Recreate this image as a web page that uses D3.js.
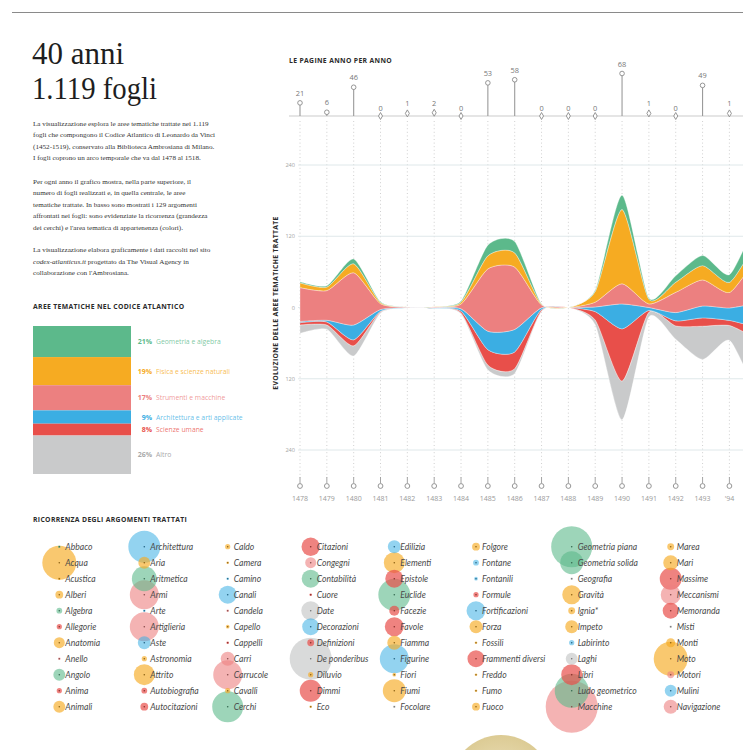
<!DOCTYPE html>
<html><head><meta charset="utf-8">
<script src="https://cdn.jsdelivr.net/npm/d3@7"></script>
<style>
body{margin:0;background:#fff;}
svg{display:block;}
</style></head><body>
<svg id="c" width="743" height="750"></svg>
<script>
// ---------- DATA ----------
const years = [1478,1479,1480,1481,1482,1483,1484,1485,1486,1487,1488,1489,1490,1491,1492,1493,1494];
const yearLabels = ["1478","1479","1480","1481","1482","1483","1484","1485","1486","1487","1488","1489","1490","1491","1492","1493","'94"];
const pages = [21,6,46,0,1,2,0,53,58,0,0,0,68,1,0,49,1];

const streamYears  = [1478,1479,1480,1481,1482,1483,1484,1485,1486,1487,1488,1489,1490,1491,1492,1493,1494,1495,1496];
const geometria    = [2,2,8,1,0,0,2,18,19,1,0,2,24,2,11,17,13,32,25];
const fisica       = [8,6,15,2,0,0.5,3,22,24,1,0,18,125,8,17,24,17,27,25];
const strumenti    = [57,50,88,10,1,1,8,105,105,5,0,8,34,6,34,44,26,70,55];
const architettura = [2,3,25,3,1,1,4,31,38,3,0,8,42,5,14,20,21,38,30];
const scienze      = [4,5,10,1,0,0,3,26,28,2,0,14,88,3,8.5,14,8.5,18,15];
const altro        = [14,7,17,2,0,0,1.5,8,8,1,0,8,65,8,22.5,56,25,85,60];

const areaNames  = ["Geometria e algebra","Fisica e scienze naturali","Strumenti e macchine","Architettura e arti applicate","Scienze umane","Altro"];
const areaShares = [21,19,17,9,8,26];
const areaColors = ["#5cb98b","#f6ab22","#ec8080","#3baee3","#e84f4a","#c9cacb"];
const yTicks = [-240,-120,0,120,240];

const topics = ["Abbaco","Acqua","Acustica","Alberi","Algebra","Allegorie","Anatomia","Anello","Angolo","Anima","Animali",
"Architettura","Aria","Aritmetica","Armi","Arte","Artiglieria","Aste","Astronomia","Attrito","Autobiografia","Autocitazioni",
"Caldo","Camera","Camino","Canali","Candela","Capello","Cappelli","Carri","Carrucole","Cavalli","Cerchi",
"Citazioni","Congegni","Contabilità","Cuore","Date","Decorazioni","Definizioni","De ponderibus","Diluvio","Dimmi","Eco",
"Edilizia","Elementi","Epistole","Euclide","Facezie","Favole","Fiamma","Figurine","Fiori","Fiumi","Focolare",
"Folgore","Fontane","Fontanili","Formule","Fortificazioni","Forza","Fossili","Frammenti diversi","Freddo","Fumo","Fuoco",
"Geometria piana","Geometria solida","Geografia","Gravità","Ignia*","Impeto","Labirinto","Laghi","Libri","Ludo geometrico","Macchine",
"Marea","Mari","Massime","Meccanismi","Memoranda","Misti","Monti","Moto","Motori","Mulini","Navigazione"];
// area index: 0 geometria,1 fisica,2 strumenti,3 architettura,4 scienze umane,5 altro
const topicArea = [0,1,1,1,0,4,1,2,0,4,1,
3,1,0,2,3,2,3,1,1,4,4,
1,1,3,3,2,1,4,2,2,1,0,
4,2,0,4,5,3,4,5,1,4,1,
3,1,4,0,4,4,1,3,1,1,5,
1,3,3,4,3,1,1,4,1,1,1,
0,0,5,1,1,1,3,5,4,0,2,
1,1,4,2,4,5,1,1,2,3,2];
const topicCount = [1,171,1,9,5,4,18,1,21,4,21,
151,21,92,124,1,124,25,4,65,5,9,
4,1,1,48,1,2,1,29,124,4,142,
50,18,48,1,53,43,7,261,4,71,1,
25,65,48,151,15,53,29,124,2,78,1,
9,5,2,4,53,25,1,43,1,1,9,
249,78,1,53,7,25,4,21,65,171,400,
7,33,71,59,38,1,12,171,7,21,29];

// ---------- LAYOUT ----------
const svg = d3.select("#c");
const sans = "'Open Sans', sans-serif";
const serif = "'Liberation Serif', serif";

// top rule
svg.append("line").attr("x1",12).attr("x2",743).attr("y1",12.5).attr("y2",12.5).attr("stroke","#8a8a8a").attr("stroke-width",1);

// title
const title = svg.append("g").attr("font-family",serif).attr("fill","#1e1e1e").attr("font-size",31);
title.append("text").attr("x",32).attr("y",64).text("40 anni");
title.append("text").attr("x",32).attr("y",99).attr("textLength",125).attr("lengthAdjust","spacingAndGlyphs").text("1.119 fogli");

const paras = [
 [["La visualizzazione esplora le aree tematiche trattate nei 1.119"],["fogli che compongono il Codice Atlantico di Leonardo da Vinci"],["(1452-1519), conservato alla Biblioteca Ambrosiana di Milano."],["I fogli coprono un arco temporale che va dal 1478 al 1518."]],
 [["Per ogni anno il grafico mostra, nella parte superiore, il"],["numero di fogli realizzati e, in quella centrale, le aree"],["tematiche trattate. In basso sono mostrati i 129 argomenti"],["affrontati nei fogli: sono evidenziate la ricorrenza (grandezza"],["dei cerchi) e l'area tematica di appartenenza (colori)."]],
 [["La visualizzazione elabora graficamente i dati raccolti nel sito"],["codex-atlanticus.it","i"," progettato da The Visual Agency in"],["collaborazione con l'Ambrosiana."]]
];
const paraStart = [125.5,183.5,252];
const pg = svg.append("g").attr("font-family",serif).attr("font-size",7.15).attr("fill","#333");
paras.forEach((p,pi)=>{
  p.forEach((line,li)=>{
    const t = pg.append("text").attr("x",33).attr("y",paraStart[pi]+li*11.6);
    if(line.length===1){ t.text(line[0]); }
    else { t.append("tspan").attr("font-style","italic").text(line[0]); t.append("tspan").text(line[2]); }
  });
});

// headings
function heading(x,y,txt){
  svg.append("text").attr("x",x).attr("y",y).attr("font-family",sans).attr("font-weight",700)
    .attr("font-size",6.8).attr("letter-spacing",0.35).attr("fill","#2b2b2b").text(txt);
}
heading(33,308.5,"AREE TEMATICHE NEL CODICE ATLANTICO");
heading(33,522,"RICORRENZA DEGLI ARGOMENTI TRATTATI");
heading(289,63,"LE PAGINE ANNO PER ANNO");

// ---------- AREA SHARE BAR ----------
const hs = d3.scaleLinear().domain([0,100]).range([0,148]);
let cum = 0;
const barG = svg.append("g");
areaShares.forEach((s,i)=>{
  const y0 = 326 + hs(cum); const h = hs(s); cum += s;
  barG.append("rect").attr("x",33).attr("y",y0).attr("width",98).attr("height",h).attr("fill",areaColors[i]);
  const col = i===5 ? "#a9a9a9" : areaColors[i];
  barG.append("text").attr("x",152).attr("y",y0+h/2+2.5).attr("text-anchor","end").attr("font-family",sans)
    .attr("font-weight",700).attr("font-size",7).attr("fill",col).text(s+"%");
  barG.append("text").attr("x",156).attr("y",y0+h/2+2.5).attr("font-family",sans)
    .attr("font-size",6.8).attr("fill",col).attr("fill-opacity",i===5?1:0.8).text(areaNames[i]);
});

// ---------- STREAM + LOLLIPOPS ----------
const x = d3.scaleLinear().domain([1478,1494]).range([300,729.4]);
const y = d3.scaleLinear().domain([-240,240]).range([450,165]);
const py = d3.scaleLinear().domain([0,68]).range([116,73.5]);

// dotted year lines
svg.append("g").selectAll("line").data(years).join("line")
  .attr("x1",d=>x(d)).attr("x2",d=>x(d)).attr("y1",121).attr("y2",478)
  .attr("stroke","#c4c4c4").attr("stroke-width",0.8).attr("stroke-dasharray","1,2.6");

// horizontal gridlines
const gy = svg.append("g");
gy.selectAll("line").data(yTicks).join("line")
  .attr("x1",298).attr("x2",743).attr("y1",d=>y(d)).attr("y2",d=>y(d))
  .attr("stroke","#dfe8ea").attr("stroke-width",1);
gy.selectAll("text").data(yTicks).join("text")
  .attr("x",295).attr("y",d=>y(d)+2).attr("text-anchor","end").attr("font-family",sans)
  .attr("font-size",5.6).attr("fill","#a5a5a5").text(d=>Math.abs(d));

svg.append("text").attr("transform","translate(278,303) rotate(-90)").attr("text-anchor","middle")
  .attr("font-family",sans).attr("font-weight",700).attr("font-size",6.8).attr("letter-spacing",0.35)
  .attr("fill","#2b2b2b").text("EVOLUZIONE DELLE AREE TEMATICHE TRATTATE");

// stream
const keys = ["altro","scienze","architettura","strumenti","fisica","geometria"];
const keyColor = {geometria:areaColors[0],fisica:areaColors[1],strumenti:areaColors[2],architettura:areaColors[3],scienze:areaColors[4],altro:areaColors[5]};
const rows = streamYears.map((yr,i)=>({year:yr,geometria:geometria[i],fisica:fisica[i],strumenti:strumenti[i],architettura:architettura[i],scienze:scienze[i],altro:altro[i]}));
const series = d3.stack().keys(keys).order(d3.stackOrderNone).offset(d3.stackOffsetSilhouette)(rows);
const area = d3.area().x(d=>x(d.data.year)).y0(d=>y(d[0])).y1(d=>y(d[1])).curve(d3.curveCardinal.tension(0.35));
svg.append("g").selectAll("path").data(series).join("path")
  .attr("d",area).attr("fill",d=>keyColor[d.key])
  .attr("stroke","#ffffff").attr("stroke-opacity",0.55).attr("stroke-width",0.6);

// lollipop baseline
svg.append("line").attr("x1",289).attr("x2",743).attr("y1",116).attr("y2",116).attr("stroke","#dcdcdc").attr("stroke-width",1.6);
const lp = svg.append("g");
years.forEach((yr,i)=>{
  const v = pages[i], cx = x(yr), cy = py(v);
  if(v>2){
    lp.append("line").attr("x1",cx).attr("x2",cx).attr("y1",116).attr("y2",cy).attr("stroke","#9a9a9a").attr("stroke-width",1.1);
    lp.append("circle").attr("cx",cx).attr("cy",cy).attr("r",2.3).attr("fill","#fff").attr("stroke","#8a8a8a").attr("stroke-width",0.9);
  } else {
    lp.append("path").attr("d",d3.symbol(d3.symbolDiamond,14)()).attr("transform",`translate(${cx},${cy - (v>0?2:0)})`)
      .attr("fill","#fff").attr("stroke","#8a8a8a").attr("stroke-width",0.9);
  }
  lp.append("text").attr("x",cx).attr("y",cy-(v>0?9:5)+ (v>2?2:0)).attr("text-anchor","middle").attr("font-family",sans)
    .attr("font-size",7.4).attr("fill","#777").text(v);
});

// bottom year axis
const ya = svg.append("g");
years.forEach((yr,i)=>{
  const cx = x(yr);
  ya.append("line").attr("x1",cx).attr("x2",cx).attr("y1",477).attr("y2",483.5).attr("stroke","#9a9a9a").attr("stroke-width",0.9);
  ya.append("circle").attr("cx",cx).attr("cy",486).attr("r",2.4).attr("fill","#fff").attr("stroke","#8a8a8a").attr("stroke-width",0.9);
  ya.append("text").attr("x",cx).attr("y",501).attr("text-anchor","middle").attr("font-family",sans)
    .attr("font-size",7).attr("fill","#9a9a9a").text(yearLabels[i]);
});

// ---------- TOPIC BUBBLES ----------
const colX = [59.3,144.3,227.7,310.7,394.3,476,571.7,670.7];
const rowY = d3.scaleLinear().domain([0,10]).range([546.7,706.7]);
const rs = d3.scaleSqrt().domain([0,400]).range([0,26]);
const areaOpacity = [0.6,0.65,0.6,0.55,0.7,0.7];
const tdata = topics.map((t,i)=>({name:t,area:topicArea[i],count:topicCount[i],cx:colX[Math.floor(i/11)],cy:rowY(i%11)}));

// decorative drawing disc at bottom
const defs = svg.append("defs");
const rg = defs.append("radialGradient").attr("id","paper");
rg.append("stop").attr("offset","0%").attr("stop-color","#efe5c4");
rg.append("stop").attr("offset","100%").attr("stop-color","#dccb94");
svg.append("circle").attr("cx",501).attr("cy",786).attr("r",51).attr("fill","url(#paper)");

const tg = svg.append("g");
tg.selectAll("circle.b").data(tdata.slice().sort((a,b)=>b.count-a.count)).join("circle").attr("class","b")
  .attr("cx",d=>d.cx).attr("cy",d=>d.cy).attr("r",d=>rs(d.count))
  .attr("fill",d=>areaColors[d.area]).attr("fill-opacity",d=>areaOpacity[d.area]);
tg.selectAll("circle.d").data(tdata).join("circle").attr("class","d")
  .attr("cx",d=>d.cx).attr("cy",d=>d.cy).attr("r",0.8)
  .attr("fill",d=>d3.color(areaColors[d.area]).darker(1.6));
tg.selectAll("text").data(tdata).join("text")
  .attr("x",d=>d.cx+6).attr("y",d=>d.cy+3).attr("font-family","Lato, sans-serif").attr("font-style","italic")
  .attr("font-size",8.6).attr("fill","#4a4a4a").text(d=>d.name);
</script>
</body></html>
